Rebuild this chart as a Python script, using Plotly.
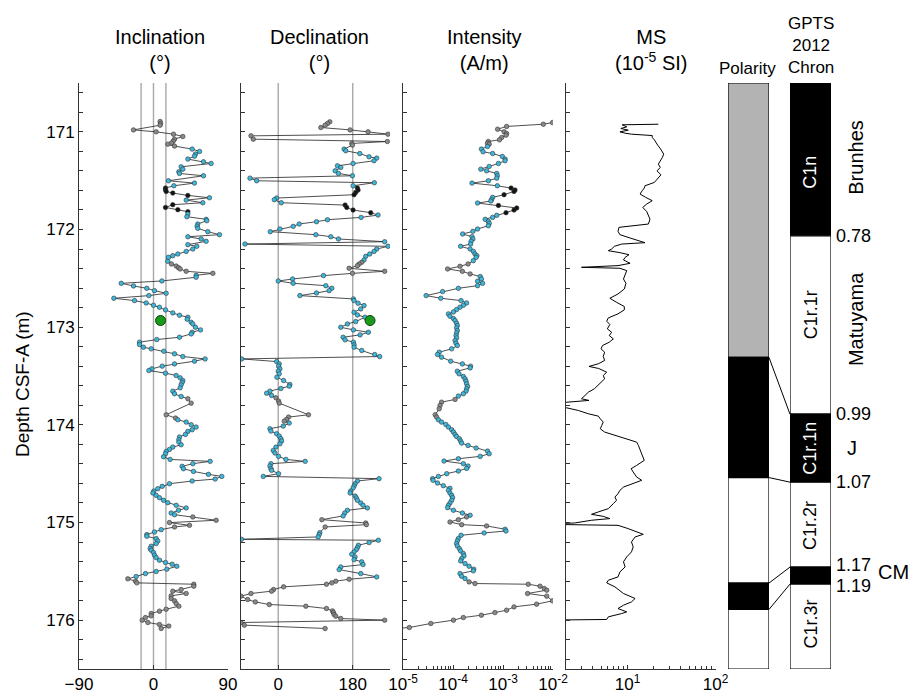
import plotly.graph_objects as go

W, H = 911, 696

# ---------------- data ----------------
inc_depth = [
    170.894, 170.915, 170.932, 170.980, 171.000, 171.024, 171.048, 171.075, 171.095, 171.116,
    171.126, 171.146, 171.177, 171.201, 171.228, 171.249, 171.279, 171.307, 171.324, 171.358,
    171.382, 171.409, 171.426, 171.450, 171.501, 171.525, 171.552, 171.576, 171.593, 171.610,
    171.627, 171.651, 171.675, 171.699, 171.726, 171.746, 171.774, 171.797, 171.818, 171.842,
    171.869, 171.896, 171.910, 171.944, 171.965, 171.988, 172.022, 172.053, 172.074, 172.097,
    172.121, 172.155, 172.172, 172.200, 172.224, 172.251, 172.268, 172.285, 172.326, 172.353,
    172.374, 172.391, 172.404, 172.428, 172.449, 172.469, 172.489, 172.527, 172.551, 172.578,
    172.602, 172.626, 172.653, 172.677, 172.704, 172.728, 172.752, 172.776, 172.796, 172.823,
    172.854, 172.878, 172.898, 172.919, 172.950, 172.967, 173.001, 173.028, 173.052, 173.069,
    173.103, 173.127, 173.154, 173.178, 173.205, 173.222, 173.246, 173.273, 173.301, 173.325,
    173.348, 173.376, 173.399, 173.427, 173.444, 173.471, 173.495, 173.519, 173.546, 173.566,
    173.590, 173.621, 173.655, 173.682, 173.710, 173.733, 173.778, 173.897, 173.931, 173.948,
    173.972, 173.999, 174.023, 174.050, 174.067, 174.098, 174.125, 174.153, 174.177, 174.204,
    174.228, 174.252, 174.272, 174.296, 174.327, 174.354, 174.374, 174.398, 174.425, 174.449,
    174.477, 174.507, 174.528, 174.555, 174.575, 174.603, 174.630, 174.654, 174.678, 174.698,
    174.722, 174.746, 174.773, 174.797, 174.824, 174.851, 174.875, 174.903, 174.920, 174.943,
    174.977, 175.001, 175.029, 175.046, 175.073, 175.097, 175.124, 175.141, 175.165, 175.189,
    175.216, 175.243, 175.267, 175.284, 175.308, 175.335, 175.359, 175.386, 175.410, 175.427,
    175.448, 175.478, 175.502, 175.523, 175.553, 175.577, 175.601, 175.618, 175.632, 175.652,
    175.686, 175.703, 175.727, 175.751, 175.778, 175.802, 175.830, 175.857, 175.888, 175.908,
    175.932, 175.956, 175.973, 176.000, 176.024, 176.044, 176.061, 176.085]
inc_value = [
    8.0, 8.5, 8.0, -24.2, 3.2, 24.2, 35.4, 25.4, 23.8, 21.7,
    17.3, 25.4, 46.7, 55.6, 50.7, 49.5, 41.5, 60.4, 69.6, 33.4,
    35.4, 30.6, 31.4, 60.4, 18.1, 49.5, 24.6, 14.5, 14.5, 15.3,
    23.3, 41.5, 67.6, 39.5, 59.6, 23.3, 14.5, 29.4, 41.5, 41.5,
    40.3, 63.6, 64.4, 53.5, 52.7, 53.5, 65.6, 79.7, 41.5, 57.6,
    63.6, 41.5, 52.3, 47.5, 39.5, 29.4, 23.3, 18.1, 17.3, 21.7,
    27.4, 30.2, 32.2, 39.5, 71.7, 51.5, 51.5, 10.1, -39.0, -24.2,
    -8.1, 1.2, 15.3, -5.6, -47.9, -22.9, -8.9, 0.0, 7.2, 14.5,
    23.3, 31.4, 41.5, 40.7, 45.5, 47.5, 50.7, 56.8, 46.7, 45.5,
    31.4, 4.0, -16.9, -16.9, -12.1, -2.8, 12.5, 25.4, 35.4, 62.4,
    49.5, 25.4, 10.5, -2.0, -5.6, 14.5, 27.4, 32.2, 35.4, 34.6,
    33.4, 32.2, 23.3, 25.4, 33.4, 41.5, 45.5, 15.3, 26.6, 29.4,
    39.5, 45.5, 51.5, 46.7, 41.5, 38.6, 31.4, 30.6, 30.6, 33.4,
    23.3, 19.3, 15.3, 14.5, 12.1, 20.1, 68.4, 47.5, 34.6, 36.2,
    48.3, 66.4, 82.5, 74.5, 46.7, 19.3, 10.5, 5.2, 0.4, -0.8,
    3.2, 7.2, 12.1, 17.3, 27.4, 39.5, 30.2, 21.3, 25.4, 47.5,
    75.7, 19.3, 43.5, 25.4, 9.3, 1.2, -8.1, -8.1, 3.2, 5.2,
    3.2, -2.8, -4.0, -2.8, 0.0, 1.2, 3.2, 7.2, 14.5, 22.5,
    28.2, 16.1, 3.2, -9.7, -20.9, -31.0, -21.7, -20.1, 48.7, 48.7,
    33.4, 23.3, 39.5, 21.3, 21.3, 25.4, 27.4, 30.6, 15.3, 7.2,
    -2.8, -2.8, -9.7, -13.7, -6.8, 7.2, 18.5, 9.3]
inc_flag = ("gggggggggg" "ggcccccccc" "ccccccckkk" "kkccckkkkc" "cccccccccc"
            "cccccccccg" "gggggccccc" "cccccccccc" "cccccccccc" "cccccccccc"
            "cccccccccc" "cccccggggc" "cccccccccc" "cccccccccc" "cccccccccc"
            "cccccccccg" "ggggcccccc" "cccccccccc" "cccccggggg" "gggggggggg"
            "gggggggg")

dec_depth = [
    170.898, 170.915, 170.932, 170.956, 170.980, 171.000, 171.024, 171.041, 171.075, 171.099,
    171.119, 171.136, 171.177, 171.194, 171.222, 171.256, 171.269, 171.296, 171.324, 171.348,
    171.365, 171.399, 171.426, 171.450, 171.474, 171.501, 171.521, 171.552, 171.576, 171.596,
    171.620, 171.644, 171.678, 171.695, 171.726, 171.750, 171.774, 171.801, 171.828, 171.852,
    171.876, 171.900, 171.920, 171.944, 171.968, 171.995, 172.022, 172.053, 172.074, 172.097,
    172.125, 172.149, 172.172, 172.200, 172.224, 172.251, 172.275, 172.312, 172.336, 172.353,
    172.370, 172.397, 172.428, 172.449, 172.472, 172.507, 172.527, 172.551, 172.575, 172.602,
    172.626, 172.650, 172.677, 172.711, 172.728, 172.755, 172.779, 172.813, 172.847, 172.875,
    172.898, 172.943, 172.967, 173.001, 173.028, 173.052, 173.079, 173.103, 173.130, 173.154,
    173.181, 173.205, 173.239, 173.280, 173.301, 173.325, 173.352, 173.376, 173.399, 173.427,
    173.451, 173.478, 173.512, 173.546, 173.587, 173.604, 173.628, 173.655, 173.676, 173.699,
    173.723, 173.757, 173.778, 173.897, 173.921, 173.945, 173.962, 173.982, 174.013, 174.040,
    174.064, 174.091, 174.115, 174.142, 174.166, 174.194, 174.228, 174.262, 174.289, 174.323,
    174.354, 174.374, 174.398, 174.422, 174.449, 174.466, 174.500, 174.528, 174.551, 174.575,
    174.603, 174.626, 174.647, 174.678, 174.698, 174.729, 174.749, 174.773, 174.800, 174.824,
    174.851, 174.875, 174.903, 174.933, 174.971, 175.005, 175.022, 175.046, 175.104, 175.124,
    175.148, 175.172, 175.182, 175.206, 175.233, 175.257, 175.277, 175.301, 175.325, 175.352,
    175.380, 175.403, 175.431, 175.455, 175.482, 175.523, 175.557, 175.581, 175.601, 175.618,
    175.632, 175.659, 175.686, 175.703, 175.727, 175.754, 175.789, 175.813, 175.840, 175.857,
    175.881, 175.905, 175.922, 175.942, 175.959, 175.983, 176.000, 176.024, 176.051, 176.085]
dec_value = [
    124.6, 118.9, 113.3, 102.9, 173.6, 217.0, 265.2, -65.9, -60.3, 263.6,
    177.6, 179.2, 159.1, 163.1, 196.9, 219.4, 237.9, 231.4, 180.8, 143.0,
    151.1, 137.4, 145.5, 179.2, -68.3, -52.2, 232.2, 180.8, 191.3, 192.9,
    187.2, 183.2, -4.0, -9.6, 7.2, 161.5, 165.5, 180.8, 223.4, 241.1,
    200.1, 118.9, 92.4, 50.6, 36.2, 4.0, -19.3, 90.8, 127.0, 145.5,
    257.2, -80.4, 265.2, 237.9, 231.4, 221.0, 211.3, 207.3, 201.7, 195.3,
    191.3, 171.2, 257.2, 179.2, 109.3, 34.6, 0.0, 36.2, 114.9, 129.4,
    123.0, 92.4, 52.2, 181.6, 183.2, 192.9, 207.3, 199.3, 183.2, 191.3,
    209.7, 187.2, 167.1, 151.1, 181.6, 217.8, 197.7, 156.7, 161.5, 181.6,
    183.2, 183.2, 201.7, 233.0, 245.1, -88.4, -4.0, 2.4, 0.8, 4.0,
    0.0, 2.4, -3.2, 12.9, 28.1, 26.5, 6.4, -20.1, -28.1, -16.1,
    -5.6, 0.8, 2.4, 73.1, 24.9, 20.1, 14.5, 26.5, 12.1, -20.1,
    -17.7, -4.0, 2.4, 6.4, 8.0, 4.0, -5.6, -12.1, -8.0, 0.8,
    18.5, 65.1, -17.7, -20.1, -17.7, -16.1, 0.8, -36.2, 243.5, 191.3,
    185.6, 183.2, 180.8, 175.2, 173.6, 185.6, 188.8, 191.3, 199.3, 204.9,
    215.4, 167.1, 160.7, 156.7, 105.3, 211.3, 213.0, 113.3, 100.4, 98.8,
    96.4, -89.0, 241.9, 219.4, 193.7, 191.3, 188.8, 183.2, 177.6, 185.6,
    183.2, 201.7, 204.9, 151.1, 147.1, 199.3, 237.9, 171.2, 139.0, 129.4,
    116.5, 12.9, -11.3, -16.1, -65.9, -90.0, -73.9, -55.4, -21.7, 66.7,
    116.5, 131.0, 133.4, 135.0, 139.0, 151.1, 257.2, -90.0, -82.0, 113.3]
dec_flag = ("gggggggggg" "ggcccccccc" "cccccccckk" "kkccckkkkc" "cccccccccc"
            "ccccccccgg" "ggggcccccc" "cccccccccc" "cccccccccc" "cccccccccc"
            "cccccccccc" "gggggggccc" "cccccccccc" "cccccccccc" "cccccccccc"
            "ccccggggcc" "cccccccccc" "cccccccggg" "gggggggggg" "gggggggggg")

int_depth = [
    170.905, 170.922, 170.945, 170.973, 171.000, 171.017, 171.034, 171.058, 171.082, 171.099,
    171.116, 171.126, 171.150, 171.177, 171.204, 171.222, 171.252, 171.279, 171.296, 171.324,
    171.354, 171.382, 171.399, 171.426, 171.450, 171.474, 171.501, 171.525, 171.552, 171.576,
    171.596, 171.610, 171.644, 171.671, 171.695, 171.709, 171.729, 171.753, 171.780, 171.801,
    171.828, 171.855, 171.876, 171.896, 171.917, 171.937, 171.961, 171.995, 172.019, 172.046,
    172.074, 172.097, 172.121, 172.149, 172.172, 172.200, 172.224, 172.251, 172.268, 172.285,
    172.319, 172.353, 172.377, 172.404, 172.428, 172.455, 172.482, 172.506, 172.530, 172.551,
    172.575, 172.602, 172.636, 172.677, 172.704, 172.728, 172.752, 172.776, 172.796, 172.820,
    172.844, 172.864, 172.888, 172.912, 172.932, 172.960, 172.984, 173.008, 173.035, 173.059,
    173.086, 173.110, 173.137, 173.164, 173.188, 173.222, 173.256, 173.280, 173.307, 173.348,
    173.376, 173.399, 173.417, 173.451, 173.478, 173.505, 173.529, 173.553, 173.580, 173.607,
    173.631, 173.655, 173.682, 173.706, 173.740, 173.768, 173.802, 173.836, 173.897, 173.921,
    173.948, 173.972, 173.996, 174.023, 174.050, 174.074, 174.098, 174.119, 174.142, 174.166,
    174.187, 174.211, 174.238, 174.269, 174.296, 174.323, 174.347, 174.371, 174.398, 174.422,
    174.446, 174.473, 174.500, 174.528, 174.551, 174.568, 174.596, 174.623, 174.650, 174.671,
    174.698, 174.722, 174.746, 174.773, 174.800, 174.824, 174.848, 174.875, 174.903, 174.926,
    174.943, 174.971, 174.995, 175.022, 175.035, 175.069, 175.087, 175.107, 175.131, 175.165,
    175.189, 175.216, 175.240, 175.267, 175.291, 175.318, 175.342, 175.369, 175.393, 175.420,
    175.448, 175.478, 175.495, 175.523, 175.550, 175.574, 175.608, 175.625, 175.632, 175.652,
    175.676, 175.693, 175.727, 175.754, 175.802, 175.836, 175.864, 175.898, 175.922, 175.949,
    175.973, 176.000, 176.034, 176.075, 176.088]
int_value = [
    9.8e-3, 6.4e-3, 1.18e-3, 7.8e-4, 1.05e-3, 1.18e-3, 1.15e-3, 9.4e-4, 8.5e-4, 5.1e-4,
    4.9e-4, 5.3e-4, 4.9e-4, 3.7e-4, 4.0e-4, 6.2e-4, 9.7e-4, 1.10e-3, 1.10e-3, 8.1e-4,
    5.3e-4, 3.6e-4, 4.7e-4, 7.5e-4, 7.7e-4, 7.5e-4, 5.1e-4, 2.4e-4, 7.7e-4, 1.45e-3,
    1.74e-3, 1.66e-3, 1.05e-3, 6.2e-4, 5.9e-4, 5.7e-4, 3.1e-4, 8.1e-4, 1.88e-3, 1.66e-3,
    1.15e-3, 7.5e-4, 6.2e-4, 4.4e-4, 5.1e-4, 5.3e-4, 5.1e-4, 3.1e-4, 2.5e-4, 1.56e-4,
    2.4e-4, 2.5e-4, 2.3e-4, 2.25e-4, 1.42e-4, 2.2e-4, 2.55e-4, 2.75e-4, 3.0e-4, 2.9e-4,
    2.55e-4, 2.0e-4, 1.38e-4, 7.8e-5, 1.54e-4, 2.2e-4, 3.5e-4, 3.7e-4, 3.1e-4, 3.9e-4,
    3.1e-4, 1.28e-4, 6.2e-5, 2.9e-5, 5.7e-5, 1.45e-4, 1.87e-4, 1.61e-4, 1.38e-4, 1.18e-4,
    1.02e-4, 8.1e-5, 8.7e-5, 1.02e-4, 1.10e-4, 1.18e-4, 1.22e-4, 1.18e-4, 1.22e-4, 1.18e-4,
    1.15e-4, 1.18e-4, 1.10e-4, 1.15e-4, 1.22e-4, 9.4e-5, 5.3e-5, 4.9e-5, 5.9e-5, 9.0e-5,
    1.54e-4, 2.25e-4, 2.2e-4, 1.22e-4, 1.32e-4, 1.61e-4, 1.74e-4, 1.82e-4, 1.87e-4, 1.96e-4,
    1.87e-4, 1.82e-4, 1.61e-4, 1.28e-4, 1.10e-4, 5.9e-5, 5.5e-5, 5.3e-5, 4.4e-5, 4.7e-5,
    5.1e-5, 5.9e-5, 7.2e-5, 8.1e-5, 9.4e-5, 1.02e-4, 1.10e-4, 1.18e-4, 1.34e-4, 1.42e-4,
    1.49e-4, 2.0e-4, 2.9e-4, 4.9e-4, 5.3e-4, 3.5e-4, 1.28e-4, 6.6e-5, 1.61e-4, 2.0e-4,
    1.87e-4, 1.28e-4, 7.5e-5, 5.1e-5, 3.9e-5, 4.0e-5, 4.9e-5, 6.4e-5, 8.7e-5, 8.1e-5,
    8.7e-5, 9.4e-5, 9.8e-5, 9.4e-5, 8.7e-5, 8.1e-5, 7.8e-5, 1.02e-4, 1.54e-4, 2.2e-4,
    1.87e-4, 1.28e-4, 8.7e-5, 1.49e-4, 4.7e-4, 1.10e-3, 1.15e-3, 4.2e-4, 1.45e-4, 1.28e-4,
    1.22e-4, 1.18e-4, 1.22e-4, 1.34e-4, 1.42e-4, 1.61e-4, 1.66e-4, 1.49e-4, 1.42e-4, 1.74e-4,
    2.1e-4, 2.6e-4, 2.55e-4, 1.38e-4, 1.49e-4, 1.74e-4, 2.1e-4, 2.75e-4, 3.2e-3, 5.5e-3,
    6.7e-3, 7.5e-3, 3.1e-3, 7.5e-3, 9.8e-3, 4.7e-3, 1.66e-3, 1.18e-3, 6.9e-4, 3.7e-4,
    1.61e-4, 1.02e-4, 3.6e-5, 1.34e-5, 6.3e-6]
int_flag = ("gggggggggg" "ggcccccccc" "ccccccccck" "kkkcccckkk" "kccccccccc"
            "cccccccccc" "cgggggcccc" "cccccccccc" "cccccccccc" "cccccccccc"
            "cccccccccc" "ccccgggggg" "cccccccccc" "cccccccccc" "cccccccccc"
            "cccccccccc" "gggggccccc" "cccccccccc" "ccccccgggg" "gggggggggg"
            "ggggg")

ms_depth = [
    170.922, 170.928, 170.949, 170.966, 170.983, 171.000, 171.014, 171.024, 171.038, 171.058,
    171.082, 171.109, 171.136, 171.167, 171.201, 171.228, 171.262, 171.297, 171.331, 171.365,
    171.399, 171.440, 171.484, 171.518, 171.552, 171.576, 171.603, 171.637, 171.671, 171.705,
    171.740, 171.774, 171.815, 171.849, 171.893, 171.944, 171.964, 171.978, 172.019, 172.053,
    172.087, 172.114, 172.135, 172.149, 172.172, 172.200, 172.217, 172.237, 172.258, 172.285,
    172.312, 172.346, 172.370, 172.387, 172.397, 172.421, 172.462, 172.507, 172.551, 172.609,
    172.660, 172.704, 172.745, 172.789, 172.823, 172.864, 172.905, 172.939, 172.973, 173.018,
    173.052, 173.086, 173.120, 173.154, 173.188, 173.222, 173.256, 173.300, 173.341, 173.375,
    173.402, 173.423, 173.461, 173.495, 173.529, 173.563, 173.597, 173.631, 173.665, 173.699,
    173.733, 173.750, 173.768, 173.791, 173.826, 173.853, 173.887, 173.911, 173.938, 173.972,
    174.006, 174.040, 174.074, 174.108, 174.142, 174.177, 174.211, 174.262, 174.313, 174.364,
    174.415, 174.449, 174.483, 174.534, 174.568, 174.603, 174.637, 174.671, 174.705, 174.739,
    174.773, 174.807, 174.858, 174.892, 174.916, 174.937, 174.960, 174.977, 175.005, 175.018,
    175.029, 175.063, 175.097, 175.121, 175.148, 175.199, 175.250, 175.301, 175.352, 175.403,
    175.455, 175.506, 175.557, 175.591, 175.618, 175.659, 175.727, 175.778, 175.813, 175.847,
    175.881, 175.915, 175.932, 175.966, 175.993, 176.000]
ms_value = [
    22.4, 8.7, 9.8, 8.4, 10.2, 8.2, 9.4, 11.1, 19.1, 19.1,
    20.2, 20.9, 22.0, 23.4, 24.9, 25.8, 24.9, 23.6, 22.4, 23.6,
    21.6, 24.0, 21.6, 20.2, 15.8, 15.5, 14.7, 13.9, 16.1, 19.1,
    16.5, 14.9, 16.5, 17.3, 18.0, 17.3, 11.1, 8.0, 7.8, 8.2,
    10.7, 13.9, 15.8, 8.6, 7.1, 6.6, 6.05, 8.2, 10.4, 9.4,
    9.0, 10.7, 7.8, 3.0, 8.2, 9.8, 9.4, 9.0, 9.6, 9.2,
    7.8, 6.3, 7.5, 9.2, 9.2, 7.8, 6.05, 5.8, 6.3, 5.9,
    6.6, 6.2, 6.9, 6.2, 5.2, 5.0, 5.5, 5.3, 5.5, 4.66,
    3.65, 4.7, 5.8, 5.3, 5.5, 5.0, 4.66, 4.2, 3.6, 3.3,
    3.0, 3.65, 2.04, 1.0, 2.04, 2.76, 3.6, 4.66, 4.9, 5.3,
    5.1, 4.9, 5.5, 7.2, 9.4, 12.7, 13.3, 13.9, 14.7, 15.5,
    12.7, 11.0, 11.6, 12.7, 14.5, 11.1, 9.0, 8.2, 7.8, 7.2,
    7.5, 6.9, 6.05, 4.66, 3.9, 5.3, 6.3, 3.9, 2.5, 1.0,
    7.8, 10.2, 12.7, 15.1, 12.2, 11.1, 11.6, 11.1, 9.8, 9.0,
    9.4, 8.2, 7.8, 6.05, 5.8, 7.2, 9.0, 12.2, 11.1, 9.0,
    7.8, 9.8, 8.6, 6.05, 5.8, 1.0]

mean_depth = [172.932]
mean_inc = [8.5]
mean_dec = [221.8]

inc_ref_lines = [-15, 0, 15]
dec_ref_lines = [0, 180]

polarity_top = [170.5, 173.31, 174.54, 175.62, 175.89]
polarity_bottom = [173.31, 174.54, 175.62, 175.89, 176.5]
polarity_color = ["#b3b3b3", "black", "white", "black", "white"]

gpts_top = [0.60, 0.78, 0.99, 1.07, 1.17, 1.19]
gpts_bottom = [0.78, 0.99, 1.07, 1.17, 1.19, 1.29]
gpts_color = ["black", "white", "black", "white", "black", "white"]
chron_names = ["C1n", "C1r.1r", "C1r.1n", "C1r.2r", "C1r.3r"]
chron_label_age = [0.705, 0.873, 1.030, 1.121, 1.237]
chron_text_color = ["white", "black", "white", "black", "black"]
age_labels = ["0.78", "0.99", "1.07", "1.17", "1.19"]
age_values = [0.78, 0.99, 1.07, 1.17, 1.19]
age_label_shift = [0, 0, 0, 2, -2]
tie_depths = [173.31, 174.54, 175.62, 175.89]
tie_ages = [0.99, 1.07, 1.17, 1.19]
chron_side_names = ["Brunhes", "Matuyama"]
chron_side_age = [0.688, 0.878]
subchron_names = ["J", "CM"]
subchron_age = [1.030, 1.176]

depth_ticks = [171, 172, 173, 174, 175, 176]

# ---------------- layout helpers ----------------
FONT = "Liberation Sans, Arial, Helvetica, sans-serif"
Y0, Y1 = 1 - 669 / H, 1 - 83 / H
DEPTH_RANGE = [176.5, 170.5]
AGE_RANGE = [1.29, 0.60]
COLMAP = {"c": "#3cb8dc", "g": "#8a8a8a", "k": "#111111"}
AXC = "#333333"


def depth_to_paper(d):
    return Y0 + (DEPTH_RANGE[0] - d) / (DEPTH_RANGE[0] - DEPTH_RANGE[1]) * (Y1 - Y0)


def age_to_paper(a):
    return Y0 + (AGE_RANGE[0] - a) / (AGE_RANGE[0] - AGE_RANGE[1]) * (Y1 - Y0)


fig = go.Figure()


def add_series(depth, value, flags, xa, ya):
    fig.add_trace(go.Scatter(
        x=value, y=depth, mode="lines+markers", xaxis=xa, yaxis=ya,
        line=dict(color="#222222", width=0.8),
        marker=dict(size=4.5, color=[COLMAP[f] for f in flags],
                    line=dict(color="#333333", width=0.6)),
        hoverinfo="skip"))


add_series(inc_depth, inc_value, inc_flag, "x", "y")
add_series(dec_depth, dec_value, dec_flag, "x2", "y2")
add_series(int_depth, int_value, int_flag, "x3", "y3")

fig.add_trace(go.Scatter(x=ms_value, y=ms_depth, mode="lines", xaxis="x4", yaxis="y4",
                         line=dict(color="black", width=1), hoverinfo="skip"))

for xa, ya, vals in [("x", "y", mean_inc), ("x2", "y2", mean_dec)]:
    fig.add_trace(go.Scatter(x=vals, y=mean_depth, mode="markers", xaxis=xa, yaxis=ya,
                             marker=dict(size=10, color="#1a9a1a",
                                         line=dict(color="#0a400a", width=1)),
                             hoverinfo="skip"))

# polarity column
fig.add_trace(go.Bar(x=[0] * len(polarity_top),
                     y=[b - t for t, b in zip(polarity_top, polarity_bottom)],
                     base=polarity_top, width=1, xaxis="x5", yaxis="y5",
                     marker=dict(color=polarity_color, line=dict(color="black", width=1.2)),
                     hoverinfo="skip"))
# GPTS column
fig.add_trace(go.Bar(x=[0] * len(gpts_top),
                     y=[b - t for t, b in zip(gpts_top, gpts_bottom)],
                     base=gpts_top, width=1, xaxis="x6", yaxis="y6",
                     marker=dict(color=gpts_color, line=dict(color="black", width=1.2)),
                     hoverinfo="skip"))

tickfont = dict(size=17, color="black", family=FONT)
common = dict(showline=True, linecolor=AXC, linewidth=1, ticks="inside", ticklen=4,
              tickcolor=AXC, showgrid=False, zeroline=False, tickfont=tickfont,
              automargin=False)
ycommon = dict(domain=[Y0, Y1], range=DEPTH_RANGE, tickvals=depth_ticks,
               minor=dict(dtick=0.2, tick0=171, ticks="inside", ticklen=4, tickcolor=AXC),
               **common)

int_minor = [k * 10.0 ** e for e in (-5, -4, -3) for k in range(2, 10)]
ms_minor = [k * 10.0 ** e for e in (0, 1) for k in range(2, 10)]

fig.update_layout(
    width=W, height=H, margin=dict(l=0, r=0, t=0, b=0, pad=0, autoexpand=False),
    paper_bgcolor="white", plot_bgcolor="white", showlegend=False, barmode="overlay",
    font=dict(family=FONT, color="black"),
    xaxis=dict(domain=[79 / W, 228 / W], range=[-90, 90], tickvals=[-90, 0, 90],
               anchor="y", **common),
    xaxis2=dict(domain=[241 / W, 390 / W], range=[-90, 270], tickvals=[0, 180],
                anchor="y2", **common),
    xaxis3=dict(domain=[403 / W, 553 / W], type="log", range=[-5, -2],
                tickvals=[1e-5, 1e-4, 1e-3, 1e-2],
                ticktext=["10<sup>-5</sup>", "10<sup>-4</sup>", "10<sup>-3</sup>", "10<sup>-2</sup>"],
                minor=dict(tickvals=int_minor, ticks="inside", ticklen=3, tickcolor=AXC),
                anchor="y3", **common),
    xaxis4=dict(domain=[566 / W, 715.5 / W], type="log", range=[0.30103, 2],
                tickvals=[10, 100], ticktext=["10<sup>1</sup>", "10<sup>2</sup>"],
                minor=dict(tickvals=ms_minor, ticks="inside", ticklen=3, tickcolor=AXC),
                anchor="y4", **common),
    xaxis5=dict(domain=[728 / W, 769 / W], range=[-0.5, 0.5], visible=False, anchor="y5"),
    xaxis6=dict(domain=[790 / W, 831 / W], range=[-0.5, 0.5], visible=False, anchor="y6"),
    yaxis=dict(anchor="x", **ycommon),
    yaxis2=dict(anchor="x2", showticklabels=False, **ycommon),
    yaxis3=dict(anchor="x3", showticklabels=False, **ycommon),
    yaxis4=dict(anchor="x4", showticklabels=False, **ycommon),
    yaxis5=dict(domain=[Y0, Y1], range=DEPTH_RANGE, visible=False, anchor="x5"),
    yaxis6=dict(domain=[Y0, Y1], range=AGE_RANGE, visible=False, anchor="x6"),
)

shapes = []
for v in inc_ref_lines:
    shapes.append(dict(type="line", xref="x", yref="y domain", x0=v, x1=v, y0=0, y1=1,
                       line=dict(color="#a8a8a8", width=1.4), layer="below"))
for v in dec_ref_lines:
    shapes.append(dict(type="line", xref="x2", yref="y2 domain", x0=v, x1=v, y0=0, y1=1,
                       line=dict(color="#a8a8a8", width=1.4), layer="below"))
for d, a in zip(tie_depths, tie_ages):
    shapes.append(dict(type="line", xref="paper", yref="paper", x0=769 / W, x1=790 / W,
                       y0=depth_to_paper(d), y1=age_to_paper(a),
                       line=dict(color="black", width=1)))
fig.update_layout(shapes=shapes)

ann = []
titles = [("Inclination<br>(°)", 159.5), ("Declination<br>(°)", 319),
          ("Intensity<br>(A/m)", 484), ("MS<br>(10<sup>-5</sup> SI)", 651)]
for t, cx in titles:
    ann.append(dict(x=cx / W, y=1 - 50 / H, xref="paper", yref="paper", text=t,
                    showarrow=False, font=dict(size=20), xanchor="center", yanchor="middle"))
ann.append(dict(x=747 / W, y=1 - 68 / H, xref="paper", yref="paper", text="Polarity",
                showarrow=False, font=dict(size=17), xanchor="center", yanchor="middle"))
ann.append(dict(x=811 / W, y=1 - 45 / H, xref="paper", yref="paper",
                text="GPTS<br>2012<br>Chron", showarrow=False, font=dict(size=17),
                xanchor="center", yanchor="middle"))
ann.append(dict(x=22 / W, y=1 - 384 / H, xref="paper", yref="paper", text="Depth CSF-A (m)",
                textangle=-90, showarrow=False, font=dict(size=19),
                xanchor="center", yanchor="middle"))
for name, a, col in zip(chron_names, chron_label_age, chron_text_color):
    ann.append(dict(x=0, y=a, xref="x6", yref="y6", text=name, textangle=-90,
                    showarrow=False, font=dict(size=18, color=col),
                    xanchor="center", yanchor="middle"))
for lab, a, sh in zip(age_labels, age_values, age_label_shift):
    ann.append(dict(x=834 / W, y=a, xref="paper", yref="y6", text=lab, showarrow=False,
                    font=dict(size=18), xanchor="left", yanchor="middle", yshift=sh))
for name, a in zip(chron_side_names, chron_side_age):
    ann.append(dict(x=856 / W, y=a, xref="paper", yref="y6", text=name, textangle=-90,
                    showarrow=False, font=dict(size=20), xanchor="center", yanchor="middle"))
ann.append(dict(x=852 / W, y=subchron_age[0], xref="paper", yref="y6", text=subchron_names[0],
                showarrow=False, font=dict(size=20), xanchor="center", yanchor="middle"))
ann.append(dict(x=876 / W, y=subchron_age[1], xref="paper", yref="y6", text=subchron_names[1],
                showarrow=False, font=dict(size=20), xanchor="left", yanchor="middle"))
fig.update_layout(annotations=ann)

fig.write_html("out.html")
